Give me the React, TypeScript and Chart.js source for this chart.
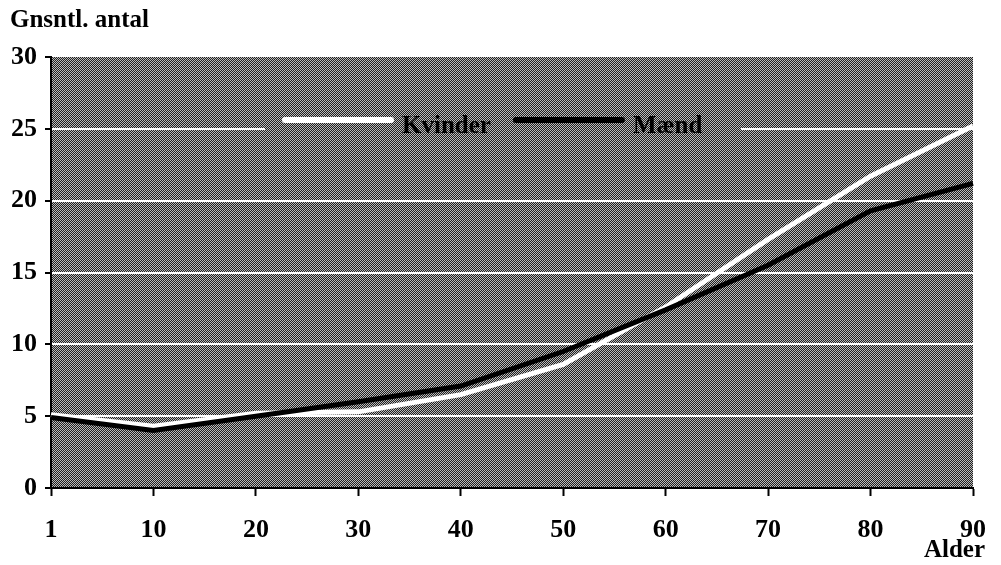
import React, { useEffect, useRef } from "react";
import { Chart, registerables } from "chart.js";

Chart.register(...registerables);

const ages = ["1", "10", "20", "30", "40", "50", "60", "70", "80", "90"];
const kvinder = [5.1, 4.3, 5.2, 5.3, 6.5, 8.6, 12.6, 17.3, 21.7, 25.2];
const maend = [4.9, 4.0, 5.0, 6.0, 7.1, 9.5, 12.4, 15.5, 19.3, 21.2];
const yTitle = "Gnsntl. antal";
const xTitle = "Alder";
const seriesNames = ["Kvinder", "Mænd"];

const FONT = '"Liberation Serif", "Times New Roman", serif';

function makePattern(ctx: CanvasRenderingContext2D): CanvasPattern | string {
  const c = document.createElement("canvas");
  c.width = 2;
  c.height = 2;
  const p = c.getContext("2d");
  if (!p) return "#6a6a6a";
  p.fillStyle = "#202020";
  p.fillRect(0, 0, 2, 2);
  p.fillStyle = "#bababa";
  p.fillRect(0, 0, 1, 1);
  p.fillRect(1, 1, 1, 1);
  return ctx.createPattern(c, "repeat") || "#6a6a6a";
}

export default function App() {
  const ref = useRef<HTMLCanvasElement>(null);

  useEffect(() => {
    const canvas = ref.current;
    if (!canvas) return;

    const bgPlugin = {
      id: "stippleBg",
      beforeDraw(chart: any) {
        const { ctx, chartArea } = chart;
        ctx.save();
        ctx.fillStyle = makePattern(ctx);
        ctx.fillRect(chartArea.left, chartArea.top, chartArea.right - chartArea.left, chartArea.bottom - chartArea.top);
        ctx.restore();
      },
    };

    const legendPlugin = {
      id: "innerLegend",
      beforeDatasetsDraw(chart: any) {
        const { ctx, chartArea } = chart;
        const ds = chart.data.datasets;
        ctx.save();
        ctx.fillStyle = makePattern(ctx);
        const boxL = chartArea.left + 214;
        const boxT = chartArea.top + 45;
        ctx.fillRect(boxL, boxT, 476, 40);
        ctx.font = `bold 25px ${FONT}`;
        ctx.textBaseline = "middle";
        let x = chartArea.left + 234;
        const y = chartArea.top + 63;
        ds.forEach((d: any) => {
          ctx.strokeStyle = d.borderColor;
          ctx.lineWidth = 6;
          ctx.lineCap = "round";
          ctx.beginPath();
          ctx.moveTo(x, y);
          ctx.lineTo(x + 106, y);
          ctx.stroke();
          ctx.fillStyle = "#000";
          ctx.fillText(d.label, x + 117, y + 7);
          x += 117 + ctx.measureText(d.label).width + 25;
        });
        ctx.restore();
      },
    };

    const textPlugin = {
      id: "axisTexts",
      afterDraw(chart: any) {
        const { ctx, chartArea } = chart;
        ctx.save();
        ctx.fillStyle = "#000";
        ctx.font = `bold 25px ${FONT}`;
        ctx.textBaseline = "middle";
        ctx.textAlign = "left";
        ctx.fillText(yTitle, 10, 21);
        ctx.textAlign = "right";
        ctx.fillText(xTitle, chartArea.right + 12, 551);
        ctx.restore();
      },
    };

    const chart = new Chart(canvas, {
      type: "line",
      data: {
        labels: ages,
        datasets: [
          {
            label: seriesNames[0],
            data: kvinder,
            borderColor: "#ffffff",
            backgroundColor: "#ffffff",
            borderWidth: 5,
            pointRadius: 0,
            tension: 0,
            fill: false,
            order: 2,
          },
          {
            label: seriesNames[1],
            data: maend,
            borderColor: "#000000",
            backgroundColor: "#000000",
            borderWidth: 5,
            pointRadius: 0,
            tension: 0,
            fill: false,
            order: 1,
          },
        ],
      },
      options: {
        animation: false,
        responsive: false,
        maintainAspectRatio: false,
        layout: { padding: { top: 57, right: 28, left: 0, bottom: 0 } },
        plugins: {
          legend: { display: false },
          tooltip: { enabled: false },
          title: { display: false },
        },
        scales: {
          x: {
            offset: false,
            grid: {
              drawOnChartArea: false,
              drawTicks: true,
              tickLength: 8,
              tickColor: "#000",
              tickWidth: 2,
            },
            border: { display: true, color: "#000", width: 2 },
            ticks: {
              color: "#000",
              font: { family: FONT, size: 26, weight: "bold" },
              padding: 19,
              maxRotation: 0,
              autoSkip: false,
            },
            afterFit: (s: any) => {
              s.height = 77;
              s.paddingRight = 0;
              s.paddingLeft = 0;
            },
          },
          y: {
            min: 0,
            max: 30,
            grid: {
              color: (c: any) => (c.tick && (c.tick.value === 0 || c.tick.value === 30) ? "rgba(0,0,0,0)" : "#ffffff"),
              lineWidth: 2,
              drawTicks: true,
              tickLength: 6,
              tickColor: "#000",
              tickWidth: 2,
            },
            border: { display: true, color: "#000", width: 2 },
            ticks: {
              stepSize: 5,
              color: "#000",
              font: { family: FONT, size: 26, weight: "bold" },
              padding: 8,
            },
            afterFit: (s: any) => {
              s.width = 51;
            },
          },
        },
      },
      plugins: [bgPlugin, legendPlugin, textPlugin],
    });

    return () => chart.destroy();
  }, []);

  return (
    <div style={{ position: "fixed", left: 0, top: 0, width: 1001, height: 565, background: "#fff" }}>
      <canvas ref={ref} width={1001} height={565} style={{ display: "block" }} />
    </div>
  );
}
